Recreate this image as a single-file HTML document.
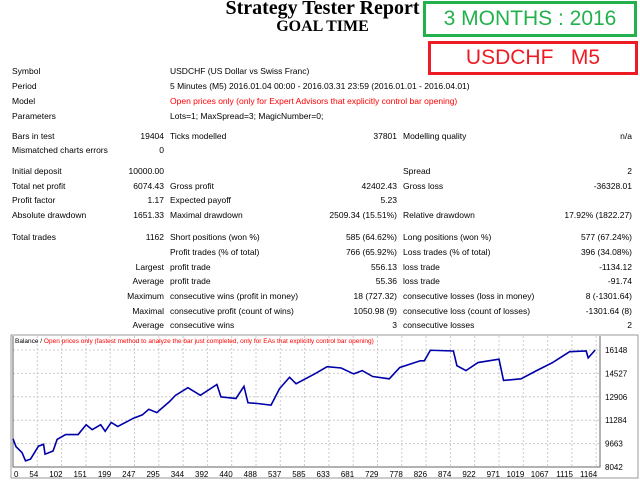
<!DOCTYPE html>
<html><head><meta charset="utf-8"><style>
body{margin:0;width:640px;height:480px;background:#fff;overflow:hidden;position:relative;font-family:"Liberation Sans",sans-serif;}
.t{position:absolute;font-size:8.5px;color:#000;white-space:nowrap;line-height:10px;}
.r{text-align:right;}
.red{color:#f00;}
</style></head><body>
<div style="position:absolute;left:0;width:645px;top:-3px;text-align:center;font:bold 20px 'Liberation Serif',serif;">Strategy Tester Report</div>
<div style="position:absolute;left:0;width:645px;top:18px;text-align:center;font:bold 16px 'Liberation Serif',serif;">GOAL TIME</div>
<div style="position:absolute;left:423px;top:1px;width:208px;height:30px;border:3px solid #22b14c;color:#22b14c;font-size:21px;text-align:center;line-height:30px;">3 MONTHS : 2016</div>
<div style="position:absolute;left:428px;top:41px;width:204px;height:28px;border:3px solid #ed1c24;color:#ed1c24;font-size:21px;text-align:center;line-height:28px;white-space:pre;">USDCHF   M5</div>

<div id="rows"></div>

<svg width="640" height="480" style="position:absolute;left:0;top:0" id="chart"></svg>

<script>
const info=[
[66,"Symbol","USDCHF (US Dollar vs Swiss Franc)",""],
[81,"Period","5 Minutes (M5) 2016.01.04 00:00 - 2016.03.31 23:59 (2016.01.01 - 2016.04.01)",""],
[96,"Model","Open prices only (only for Expert Advisors that explicitly control bar opening)","red"],
[111,"Parameters","Lots=1; MaxSpread=3; MagicNumber=0;",""]];
const rows=[
[131,"Bars in test","19404","Ticks modelled","37801","Modelling quality","n/a"],
[145,"Mismatched charts errors","0"],
[166,"Initial deposit","10000.00","","","Spread","2"],
[181,"Total net profit","6074.43","Gross profit","42402.43","Gross loss","-36328.01"],
[195,"Profit factor","1.17","Expected payoff","5.23"],
[210,"Absolute drawdown","1651.33","Maximal drawdown","2509.34 (15.51%)","Relative drawdown","17.92% (1822.27)"],
[232,"Total trades","1162","Short positions (won %)","585 (64.62%)","Long positions (won %)","577 (67.24%)"],
[247,"","","Profit trades (% of total)","766 (65.92%)","Loss trades (% of total)","396 (34.08%)"],
[262,"","Largest","profit trade","556.13","loss trade","-1134.12"],
[276,"","Average","profit trade","55.36","loss trade","-91.74"],
[291,"","Maximum","consecutive wins (profit in money)","18 (727.32)","consecutive losses (loss in money)","8 (-1301.64)"],
[306,"","Maximal","consecutive profit (count of wins)","1050.98 (9)","consecutive loss (count of losses)","-1301.64 (8)"],
[320,"","Average","consecutive wins","3","consecutive losses","2"]];
const R=document.getElementById('rows');
function add(txt,style,cls){if(!txt)return;const d=document.createElement('div');


d.className='t '+(cls||'');d.style.cssText=style;d.textContent=txt;R.appendChild(d);}
info.forEach(r=>{add(r[1],`left:12px;top:${r[0]}px`);add(r[2],`left:170px;top:${r[0]}px`,r[3]);});
rows.forEach(r=>{const y=r[0];
 add(r[1],`left:12px;top:${y}px`);
 add(r[2],`right:${640-164}px;top:${y}px`,'r');
 add(r[3],`left:170px;top:${y}px`);
 add(r[4],`right:${640-397}px;top:${y}px`,'r');
 add(r[5],`left:403px;top:${y}px`);
 add(r[6],`right:${640-632}px;top:${y}px`,'r');
});

const trades=[0,6,18,25,35,51,61,64,80,88,105,130,146,158,175,184,196,209,241,258,271,287,312,324,349,374,407,415,445,461,469,486,515,532,552,565,602,627,655,680,697,718,751,772,813,821,833,879,886,904,928,970,979,1014,1045,1077,1111,1144,1148,1162];
const balance=[10000,9450,9040,8470,8590,9490,9610,8930,9150,9950,10290,10290,10970,10630,10970,10510,11130,10850,11430,11650,12040,11810,12560,13000,13540,13010,13760,12900,12790,13630,12490,12450,12330,13470,14260,13810,14490,14990,14900,14490,14720,14310,14150,14940,15400,15400,16130,16080,15060,14720,15280,15510,14040,14150,14720,15280,16030,16080,15600,16148];
const yTicks=[8042,9663,11284,12906,14527,16148];
const xTicks=[0,54,102,151,199,247,295,344,392,440,488,537,585,633,681,729,778,826,874,922,971,1019,1067,1115,1164];
const X0=13,X1=600,Y0=336,Y1=467,VMIN=8042,VMAX=16148;
const xs=t=>X0+t*(583.2/1164);
const ys=v=>Y1-(v-VMIN)/(VMAX-VMIN)*117;
const S=document.getElementById('chart'),NS='http://www.w3.org/2000/svg';
function el(tag,a,txt){const e=document.createElementNS(NS,tag);for(const k in a)e.setAttribute(k,a[k]);if(txt!==undefined)e.textContent=txt;S.appendChild(e);return e;}
const frame=el('rect',{x:11,y:335,width:627,height:143,fill:'#fff',stroke:'#999','stroke-width':1});


yTicks.forEach(v=>{const g=el('line',{x1:X0,x2:X1,y1:ys(v),y2:ys(v),stroke:'#ccc','stroke-dasharray':'2,2'});


const l=el('text',{x:605,y:ys(v)+3,'font-size':8,fill:'#000','font-family':'Liberation Sans, sans-serif'},v);

});
xTicks.forEach((t,i)=>{const x=X0+i*24.3;
const g=el('line',{x1:x,x2:x,y1:Y0,y2:Y1,stroke:'#ccc','stroke-dasharray':'2,2'});


const l=el('text',{x:x+1,y:477,'font-size':8,'text-anchor':i===0?'start':'end',fill:'#000','font-family':'Liberation Sans, sans-serif'},t);

});
const ax=el('path',{d:`M${X0} ${Y0}V${Y1}H${X1}V${Y0}`,fill:'none',stroke:'#666','stroke-width':1});


const line=el('polyline',{points:trades.map((t,i)=>xs(t)+','+ys(balance[i])).join(' '),fill:'none',stroke:'#0000aa','stroke-width':1.6});


const cap=el('text',{x:15,y:343,'font-size':6.5,'font-family':'Liberation Sans, sans-serif'});


const c1=document.createElementNS(NS,'tspan');c1.textContent='Balance / ';cap.appendChild(c1);
const c2=document.createElementNS(NS,'tspan');c2.setAttribute('fill','#f00');c2.textContent='Open prices only (fastest method to analyze the bar just completed, only for EAs that explicitly control bar opening)';cap.appendChild(c2);
</script>
</body></html>
